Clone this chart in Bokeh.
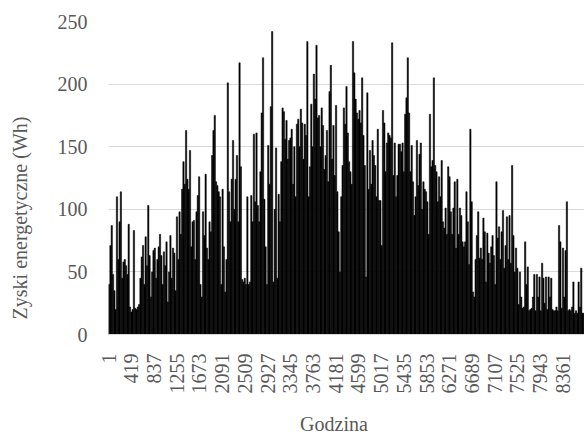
from math import pi
from bokeh.plotting import figure
from bokeh.models import FixedTicker, Range1d
from bokeh.embed import file_html
from bokeh.resources import INLINE

# Daily peak of hourly energy gains (Wh), one value per day (365 days)
daily_peak_wh = [
    40, 71, 87, 48, 35, 20, 110, 60, 90, 114,
    45, 58, 60, 55, 48, 88, 22, 18, 20, 83,
    21, 20, 22, 24, 45, 62, 71, 40, 78, 55,
    103, 63, 30, 50, 67, 69, 45, 60, 70, 80,
    63, 40, 66, 55, 74, 26, 50, 79, 45, 69,
    65, 35, 94, 60, 98, 80, 116, 138, 120, 163,
    124, 116, 147, 70, 90, 91, 60, 98, 111, 126,
    40, 30, 98, 79, 128, 69, 60, 90, 82, 143,
    163, 175, 122, 119, 114, 110, 40, 116, 70, 34,
    60, 201, 114, 90, 124, 155, 100, 124, 143, 90,
    217, 134, 44, 42, 45, 40, 110, 40, 42, 111,
    90, 160, 106, 161, 103, 90, 130, 177, 221, 108,
    70, 40, 151, 120, 182, 242, 42, 100, 149, 45,
    112, 90, 138, 181, 178, 156, 171, 140, 155, 157,
    164, 120, 150, 110, 168, 172, 150, 180, 169, 140,
    168, 159, 234, 110, 134, 184, 150, 208, 188, 231,
    173, 175, 150, 181, 167, 132, 143, 163, 122, 194,
    215, 140, 167, 127, 183, 114, 82, 50, 110, 135,
    181, 168, 198, 161, 138, 130, 120, 234, 209, 188,
    177, 172, 179, 169, 205, 159, 135, 46, 193, 116,
    147, 120, 155, 143, 135, 110, 164, 107, 107, 71,
    179, 169, 130, 153, 161, 159, 157, 233, 127, 153,
    110, 127, 152, 152, 146, 153, 130, 176, 189, 221,
    177, 130, 151, 122, 95, 110, 155, 119, 144, 153,
    100, 122, 116, 114, 106, 80, 176, 134, 139, 205,
    135, 130, 106, 126, 110, 139, 90, 85, 101, 80,
    134, 126, 98, 80, 101, 122, 69, 124, 80, 101,
    95, 74, 70, 74, 114, 90, 56, 164, 106, 34,
    30, 60, 79, 98, 61, 69, 60, 93, 82, 42,
    81, 65, 57, 70, 79, 63, 40, 122, 77, 86,
    60, 82, 99, 53, 71, 94, 60, 95, 57, 135,
    79, 50, 69, 53, 24, 50, 30, 21, 22, 74,
    40, 54, 19, 20, 21, 30, 48, 19, 48, 30,
    46, 19, 57, 45, 25, 46, 20, 46, 30, 45,
    20, 19, 19, 22, 19, 87, 74, 21, 69, 30,
    67, 106, 19, 20, 19, 22, 42, 17, 19, 17,
    42, 22, 53, 17, 17,
]

tick_labels = ["1", "419", "837", "1255", "1673", "2091", "2509", "2927", "3345",
               "3763", "4181", "4599", "5017", "5435", "5853", "6271", "6689",
               "7107", "7525", "7943", "8361"]
y_ticks = [0, 50, 100, 150, 200, 250]
x_title = "Godzina"
y_title = "Zyski energetyczne (Wh)"

HOURS_PER_DAY = 24
n_hours = len(daily_peak_wh) * HOURS_PER_DAY
day_centers = [d * HOURS_PER_DAY + 12.5 for d in range(len(daily_peak_wh))]

FONT = "Liberation Serif"
TXT = "#595959"
GRID = "#d9d9d9"
NBSP = "\u00a0"

p = figure(width=584, height=437, output_backend="svg", toolbar_location=None,
           x_range=Range1d(0.5, n_hours + 0.5), y_range=Range1d(0, 250),
           min_border_left=108, min_border_right=0, min_border_top=21,
           min_border_bottom=103)
p.outline_line_color = None
p.background_fill_color = "white"
p.border_fill_color = "white"

p.vbar(x=day_centers, top=daily_peak_wh, bottom=0, width=HOURS_PER_DAY,
       fill_color="black", line_color="black", line_width=0.5)

p.xaxis.ticker = FixedTicker(ticks=[int(t) for t in tick_labels])
p.xaxis.major_label_orientation = pi / 2
p.xaxis.major_label_standoff = 13
p.xaxis.axis_line_color = GRID
p.xaxis.major_tick_line_color = None
p.xaxis.minor_tick_line_color = None
# trailing no-break spaces shift the centred title slightly left, as in the reference
p.xaxis.axis_label = x_title + NBSP * 5
p.xaxis.axis_label_standoff = 16

p.yaxis.ticker = FixedTicker(ticks=y_ticks)
p.yaxis.major_label_standoff = 15
p.yaxis.axis_line_color = None
p.yaxis.major_tick_line_color = None
p.yaxis.minor_tick_line_color = None
# trailing no-break spaces shift the centred title downwards, as in the reference
p.yaxis.axis_label = y_title + NBSP * 16
p.yaxis.axis_label_standoff = 24

for ax in (p.xaxis, p.yaxis):
    ax.major_label_text_font = FONT
    ax.major_label_text_font_size = "20px"
    ax.major_label_text_color = TXT
    ax.axis_label_text_font = FONT
    ax.axis_label_text_font_size = "20px"
    ax.axis_label_text_font_style = "normal"
    ax.axis_label_text_color = TXT

p.xgrid.grid_line_color = None
p.ygrid.grid_line_color = GRID
p.ygrid.grid_line_width = 1

open("out.html", "w").write(file_html(p, INLINE))
